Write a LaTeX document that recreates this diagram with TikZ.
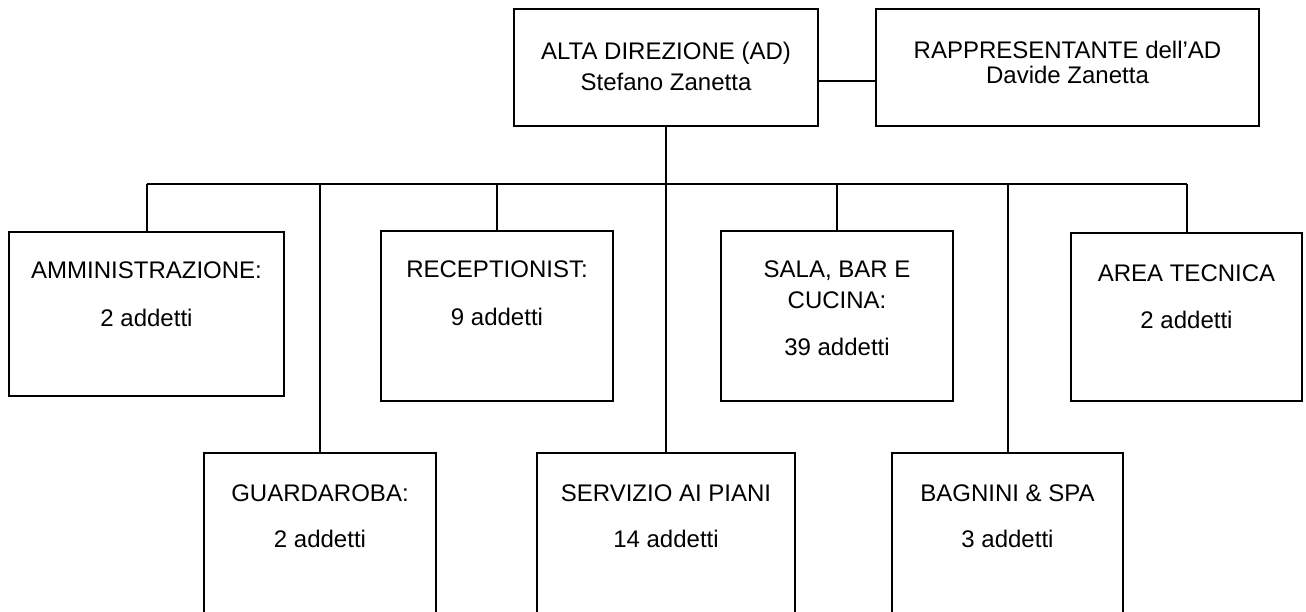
\documentclass[tikz,border=0pt]{standalone}
\usepackage{fontspec}
\setmainfont{Liberation Sans}
\usetikzlibrary{positioning}
\tikzset{
  ufficio/.style={draw, line width=2pt, inner sep=0pt},
  testo/.style={align=center, inner sep=0pt, font=\fontsize{24}{31}\selectfont},
}
\begin{document}
\begin{tikzpicture}[x=1pt, y=-1pt, line width=2pt]
  \path[use as bounding box, clip] (0,0) rectangle (1306,612);
  \node[ufficio, minimum width=304pt, minimum height=117pt] (ad) at (666,67.5) {};
  \node[ufficio, minimum width=383pt, minimum height=117pt] (rapp) at (1067.5,67.5) {};
  \node[ufficio, minimum width=275pt, minimum height=164pt] (amm) at (146.5,314) {};
  \node[ufficio, minimum width=232pt, minimum height=170pt] (recep) at (497,316) {};
  \node[ufficio, minimum width=232pt, minimum height=170pt] (sala) at (837,316) {};
  \node[ufficio, minimum width=231pt, minimum height=168pt] (area) at (1186.5,317) {};
  \node[ufficio, minimum width=232pt, minimum height=200pt] (guard) at (320,553) {};
  \node[ufficio, minimum width=258pt, minimum height=200pt] (serv) at (666,553) {};
  \node[ufficio, minimum width=231pt, minimum height=200pt] (bagn) at (1007.5,553) {};

  \node[testo, below=33pt of ad.north] (adtxt) {ALTA DIREZIONE (AD)\\Stefano Zanetta};
  \node[testo, below=32pt of rapp.north] (rapptxt) {RAPPRESENTANTE dell'AD\\[-6pt]Davide Zanetta};
  \node[testo, below=30pt of amm.north] (ammtxt) {AMMINISTRAZIONE:\\[17pt]2 addetti};
  \node[testo, below=30pt of recep.north] (receptxt) {RECEPTIONIST:\\[17pt]9 addetti};
  \node[testo, below=30pt of sala.north] (salatxt) {SALA, BAR E\\CUCINA:\\[16pt]39 addetti};
  \node[testo, below=32pt of area.north] (areatxt) {AREA TECNICA\\[16pt]2 addetti};
  \node[testo, below=32pt of guard.north] (guardtxt) {GUARDAROBA:\\[15pt]2 addetti};
  \node[testo, below=32pt of serv.north] (servtxt) {SERVIZIO AI PIANI\\[15pt]14 addetti};
  \node[testo, below=32pt of bagn.north] (bagntxt) {BAGNINI \& SPA\\[15pt]3 addetti};

  \coordinate (bus) at (0,184);
  \draw ([yshift=-13.5pt]ad.east) -- ([yshift=-13.5pt]rapp.west);
  \draw (ad.south) -- (serv.north);
  \draw (amm.north |- bus) -- (area.north |- bus);
  \draw (amm.north) -- (amm.north |- bus);
  \draw (guard.north) -- (guard.north |- bus);
  \draw (recep.north) -- (recep.north |- bus);
  \draw (sala.north) -- (sala.north |- bus);
  \draw (bagn.north) -- (bagn.north |- bus);
  \draw (area.north) -- (area.north |- bus);
\end{tikzpicture}
\end{document}
